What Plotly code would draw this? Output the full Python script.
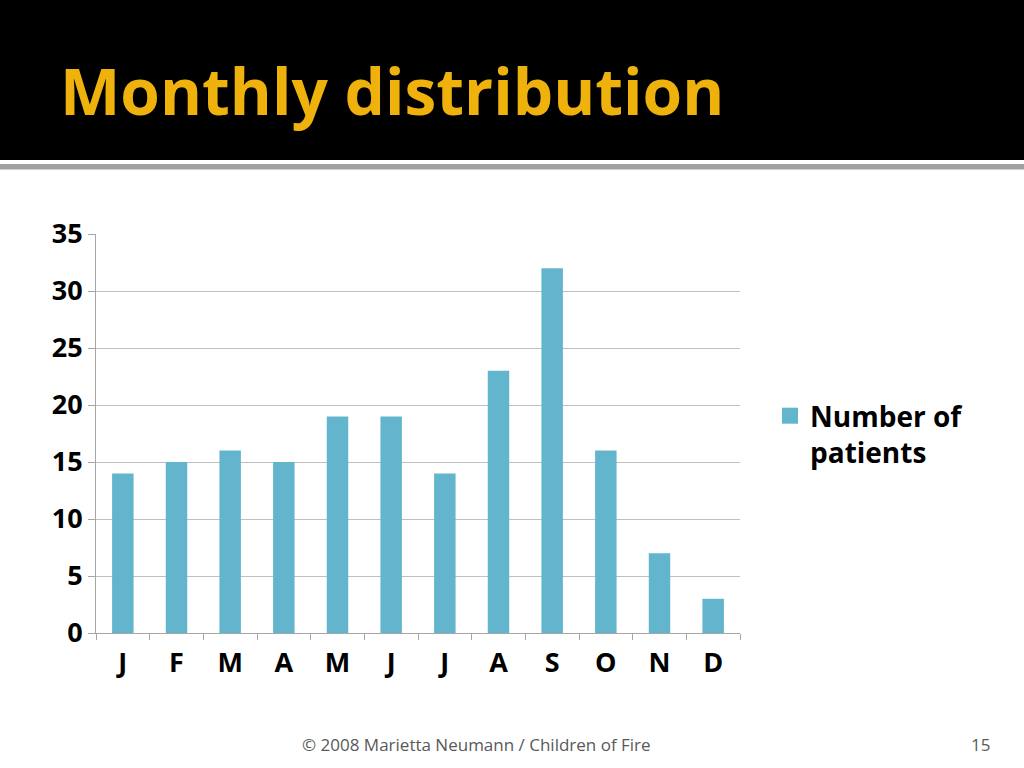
import plotly.graph_objects as go

months = ["Jan", "Feb", "Mar", "Apr", "May", "Jun", "Jul", "Aug", "Sep", "Oct", "Nov", "Dec"]
month_labels = ["J", "F", "M", "A", "M", "J", "J", "A", "S", "O", "N", "D"]
patients = [14, 15, 16, 15, 19, 19, 14, 23, 32, 16, 7, 3]
y_ticks = [0, 5, 10, 15, 20, 25, 30, 35]
series_name = "Number of<br>patients"
bar_color = "#62B5CC"

W, H = 1024, 768
L, R, T, B = 96, 284, 234, 135
pw, ph = W - L - R, H - T - B

def px(x):
    return (x - L) / pw

def py(y):
    return (H - B - y) / ph

fig = go.Figure()
fig.add_trace(go.Bar(
    x=months, y=patients, name=series_name,
    marker=dict(color=bar_color, line=dict(width=0)),
    showlegend=False,
))
# legend entry with a larger square swatch
fig.add_trace(go.Scatter(
    x=[None], y=[None], mode="markers", name=series_name,
    marker=dict(symbol="square", size=16, color=bar_color),
    showlegend=True, hoverinfo="skip",
))

fig.update_layout(
    width=W, height=H,
    margin=dict(l=L, r=R, t=T, b=B, autoexpand=False),
    paper_bgcolor="white", plot_bgcolor="white",
    font=dict(family="Open Sans", color="black"),
    bargap=0.6,
    showlegend=True,
    legend=dict(x=px(770), y=py(391), xanchor="left", yanchor="top", valign="top",
                font=dict(size=28, family="Open Sans", weight="bold", color="black"),
                bgcolor="rgba(0,0,0,0)", itemsizing="trace", tracegroupgap=0),
    xaxis=dict(
        type="category", tickmode="array", tickvals=months, ticktext=month_labels,
        tickson="boundaries", ticks="outside", ticklen=6, tickcolor="#A6A6A6",
        showline=True, linecolor="#A6A6A6", linewidth=1,
        tickfont=dict(size=27, family="Open Sans", weight="bold", color="black"),
        ticklabelstandoff=6,
        showgrid=False, range=[-0.5, 11.5],
    ),
    yaxis=dict(
        range=[0, 35], tickmode="array", tickvals=y_ticks,
        ticks="outside", ticklen=7, tickcolor="#A6A6A6",
        showline=True, linecolor="#A6A6A6", linewidth=1,
        gridcolor="#BFBFBF", gridwidth=1, zeroline=False,
        tickfont=dict(size=27, family="Open Sans", weight="bold", color="black"),
    ),
    shapes=[
        dict(type="rect", xref="paper", yref="paper", x0=px(-10), x1=px(W + 10),
             y0=py(160), y1=py(-10), fillcolor="black", line=dict(width=0), layer="below"),
        dict(type="rect", xref="paper", yref="paper", x0=px(-10), x1=px(W + 10),
             y0=py(169.5), y1=py(164), fillcolor="#A0A0A0", line=dict(width=0), layer="below"),
    ],
    annotations=[
        dict(text="Monthly distribution", xref="paper", yref="paper",
             x=px(58), y=py(90), xanchor="left", yanchor="middle", showarrow=False,
             font=dict(size=64, family="Open Sans", weight="bold", color="#EFB20C")),
        dict(text="© 2008 Marietta Neumann / Children of Fire", xref="paper", yref="paper",
             x=px(476), y=py(744), xanchor="center", yanchor="middle", showarrow=False,
             font=dict(size=17, family="Open Sans", color="#595959")),
        dict(text="15", xref="paper", yref="paper",
             x=px(992), y=py(744), xanchor="right", yanchor="middle", showarrow=False,
             font=dict(size=17, family="Open Sans", color="#595959")),
    ],
)

fig.write_html("out.html",
               config={"displayModeBar": False},
               post_script="document.body.style.margin='0';document.body.style.overflow='hidden';")
